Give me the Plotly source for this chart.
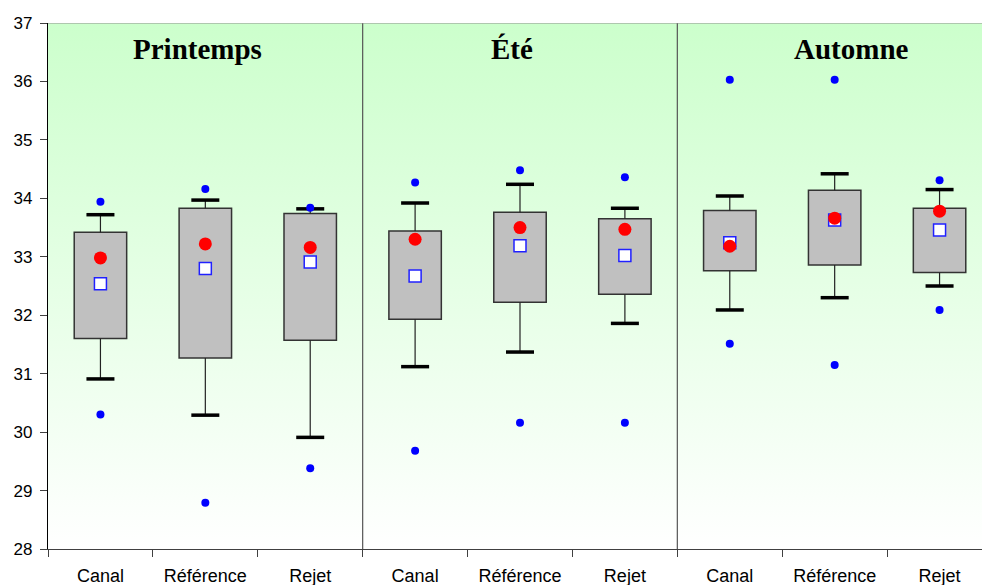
import base64
import plotly.graph_objects as go

# ---- data ----
seasons = ["Printemps", "Été", "Automne"]
categories = ["Canal", "Référence", "Rejet"]
q1 = [31.60, 31.27, 31.57, 31.93, 32.22, 32.36, 32.76, 32.86, 32.73]
q3 = [33.42, 33.83, 33.74, 33.44, 33.76, 33.65, 33.79, 34.14, 33.83]
whisk_lo = [30.91, 30.29, 29.91, 31.12, 31.37, 31.86, 32.09, 32.30, 32.50]
whisk_hi = [33.72, 33.97, 33.82, 33.92, 34.24, 33.83, 34.04, 34.42, 34.15]
min_pt = [30.30, 28.79, 29.38, 29.68, 30.16, 30.16, 31.51, 31.15, 32.09]
max_pt = [33.94, 34.16, 33.84, 34.27, 34.48, 34.36, 36.03, 36.03, 34.31]
mean = [32.98, 33.22, 33.16, 33.30, 33.50, 33.47, 33.18, 33.66, 33.78]
median = [32.54, 32.80, 32.91, 32.67, 33.19, 33.02, 33.24, 33.63, 33.46]
y_ticks = [28, 29, 30, 31, 32, 33, 34, 35, 36, 37]

n = len(seasons) * len(categories)
xs = [i + 0.5 for i in range(n)]
labels = categories * len(seasons)

fig = go.Figure()

# boxes
fig.add_trace(go.Bar(
    x=xs, y=[b - a for a, b in zip(q1, q3)], base=q1, width=0.5,
    marker=dict(color="#c0c0c0", line=dict(color="#333333", width=1.5)),
    showlegend=False, hoverinfo="skip"))

# whiskers
wx, wy = [], []
for x, a, b, lo, hi in zip(xs, q1, q3, whisk_lo, whisk_hi):
    wx += [x, x, None, x, x, None]
    wy += [b, hi, None, a, lo, None]
fig.add_trace(go.Scatter(x=wx, y=wy, mode="lines",
                         line=dict(color="#222222", width=1.2),
                         showlegend=False, hoverinfo="skip"))
# caps
fig.add_trace(go.Scatter(x=xs + xs, y=whisk_hi + whisk_lo, mode="markers",
                         marker=dict(symbol="line-ew", size=20,
                                     line=dict(color="black", width=3.5)),
                         showlegend=False, hoverinfo="skip"))
# extreme points
fig.add_trace(go.Scatter(x=xs + xs, y=max_pt + min_pt, mode="markers",
                         marker=dict(symbol="circle", size=8, color="#0000ff"),
                         showlegend=False, hoverinfo="skip"))
# median squares
fig.add_trace(go.Scatter(x=xs, y=median, mode="markers",
                         marker=dict(symbol="square", size=12, color="white",
                                     line=dict(color="#2020ff", width=1.5)),
                         showlegend=False, hoverinfo="skip"))
# mean dots
fig.add_trace(go.Scatter(x=xs, y=mean, mode="markers",
                         marker=dict(symbol="circle", size=13, color="#ff0000"),
                         showlegend=False, hoverinfo="skip"))

# gradient background
svg = ('<svg xmlns="http://www.w3.org/2000/svg" width="100" height="100" '
       'preserveAspectRatio="none"><defs><linearGradient id="g" x1="0" y1="0" '
       'x2="0" y2="1"><stop offset="0" stop-color="#ccffcc"/>'
       '<stop offset="1" stop-color="#ffffff"/></linearGradient></defs>'
       '<rect width="100" height="100" fill="url(#g)"/></svg>')
src = "data:image/svg+xml;base64," + base64.b64encode(svg.encode()).decode()
fig.add_layout_image(dict(source=src, xref="paper", yref="paper", x=0, y=1,
                          sizex=1, sizey=1, sizing="stretch", layer="below",
                          xanchor="left", yanchor="top"))

# separators and top border
for k in range(1, len(seasons)):
    fig.add_shape(type="line", x0=3 * k, x1=3 * k, y0=28, y1=37,
                  xref="x", yref="y", line=dict(color="#555555", width=1.2))
fig.add_shape(type="line", x0=0, x1=9, y0=37, y1=37, xref="x", yref="y",
              line=dict(color="#909090", width=1.2))

# season titles (placed as in the original, slightly off-centre)
title_pos = [1.425, 4.42, 7.66]
for s, tx in zip(seasons, title_pos):
    fig.add_annotation(x=tx, y=36.55, xref="x", yref="y", text=s,
                       showarrow=False,
                       font=dict(family="Liberation Serif", size=29,
                                 color="black", weight="bold"))

fig.update_layout(
    width=992, height=585,
    margin=dict(l=48, r=0, t=23, b=36),
    paper_bgcolor="white", plot_bgcolor="rgba(0,0,0,0)",
    barmode="overlay",
    font=dict(family="Liberation Sans, Arial", size=18, color="black"),
    xaxis=dict(range=[0, 9], tickvals=xs, ticktext=labels, ticks="",
               ticklabelstandoff=10, showgrid=False, zeroline=False,
               automargin=False,
               showline=True, linecolor="#404040", linewidth=1.2,
               minor=dict(tickvals=list(range(0, 10)), ticks="outside",
                          ticklen=7, tickcolor="#404040", tickwidth=1.2,
                          showgrid=False),
               tickfont=dict(size=18)),
    yaxis=dict(range=[28, 37], tickvals=y_ticks, ticks="outside", ticklen=7,
               tickcolor="#404040", showgrid=False, zeroline=False,
               automargin=False, ticklabelstandoff=4,
               showline=True, linecolor="black", linewidth=1.2,
               tickfont=dict(size=17)),
)

fig.write_html("out.html", config={"displayModeBar": False},
               post_script="document.body.style.margin='0';"
                           "document.body.style.overflow='hidden';")
